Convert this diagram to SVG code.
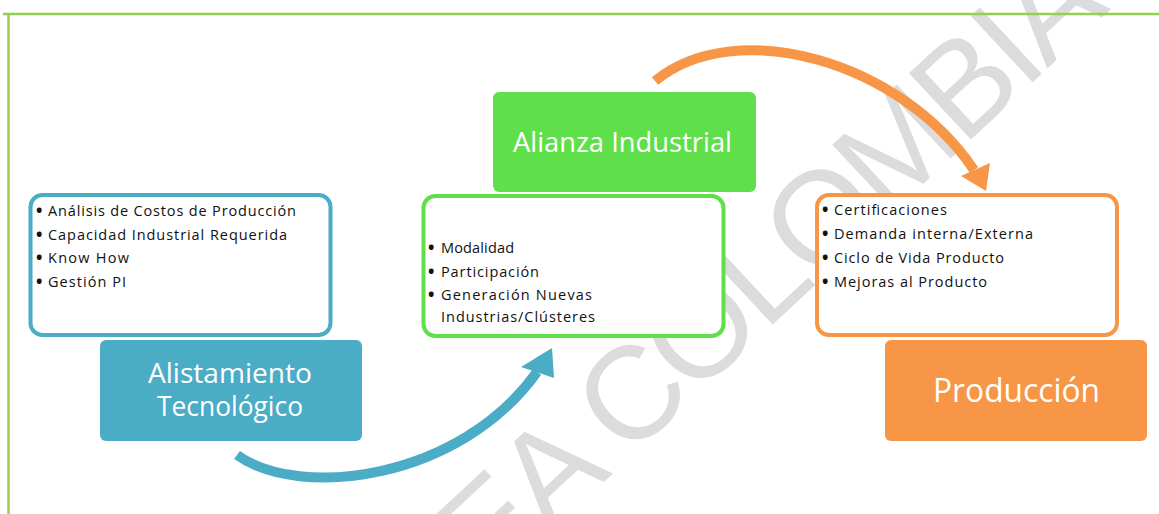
<svg xmlns="http://www.w3.org/2000/svg" width="1159" height="514" viewBox="0 0 1159 514">
<style>
.wm{font-family:"Liberation Sans",Arial,sans-serif;font-size:132px;fill:#DCDCDC;letter-spacing:-5px}
.frame{fill:none;stroke:#92D050;stroke-width:2.5}
.tbox{fill:#FFFFFF;stroke-width:4}
.lbl{font-family:"Open Sans","Noto Sans",sans-serif;fill:#FFFFFF;text-anchor:start}
.bt{font-family:"Open Sans","Noto Sans",sans-serif;font-size:14.5px;fill:#111111}
.bu{font-family:"Open Sans","Noto Sans",sans-serif;font-size:17px;font-weight:bold;fill:#111111}
.band{fill:none;stroke-width:10;stroke-linecap:butt}
</style>
<rect width="1159" height="514" fill="#FFFFFF"/>
<text class="wm" transform="translate(488,590) rotate(-43)">EA COLOMBIA</text>
<path class="frame" d="M3,14 H1159 M8.5,14 V514"/>

<g id="connectors">
  <path class="band" stroke="#4BACC6" d="M237,455 C300,500 460,480 537,372"/>
  <polygon fill="#4BACC6" points="552,348 521,367 554,378"/>
  <path class="band" stroke="#F79646" d="M655,81 C735,15 900,60 974,170"/>
  <polygon fill="#F79646" points="986,191 961,176 990,163"/>
</g>

<g id="node-alistamiento-detalle">
  <rect class="tbox" stroke="#4BACC6" x="30.5" y="195" width="300" height="140" rx="12"/>
  <text class="bu" x="36" y="217">•</text>
  <text class="bt" x="48" y="216" textLength="248">Análisis de Costos de Producción</text>
  <text class="bu" x="36" y="241">•</text>
  <text class="bt" x="48" y="240" textLength="239">Capacidad Industrial Requerida</text>
  <text class="bu" x="36" y="264">•</text>
  <text class="bt" x="48" y="263" textLength="81">Know How</text>
  <text class="bu" x="36" y="288">•</text>
  <text class="bt" x="48" y="287" textLength="78">Gestión PI</text>
</g>
<g id="node-alistamiento">
  <rect x="100" y="340" width="262" height="101" rx="6" fill="#4BACC6"/>
  <text class="lbl" font-size="27"><tspan x="148" y="383" textLength="164" lengthAdjust="spacingAndGlyphs">Alistamiento</tspan><tspan x="157" y="416" textLength="146" lengthAdjust="spacingAndGlyphs">Tecnológico</tspan></text>
</g>

<g id="node-alianza-detalle">
  <rect class="tbox" stroke="#5FE04A" x="423.5" y="196" width="300" height="140" rx="12"/>
  <text class="bu" x="428" y="254">•</text>
  <text class="bt" x="441" y="253" textLength="73">Modalidad</text>
  <text class="bu" x="428" y="278">•</text>
  <text class="bt" x="441" y="277" textLength="98">Participación</text>
  <text class="bu" x="428" y="301">•</text>
  <text class="bt" x="441" y="300" textLength="151">Generación Nuevas</text>
  <text class="bt" x="441" y="322" textLength="154">Industrias/Clústeres</text>
</g>
<g id="node-alianza">
  <rect x="493" y="92" width="263" height="100" rx="6" fill="#5FE04A"/>
  <text class="lbl" x="513" y="152" font-size="28" textLength="219" lengthAdjust="spacingAndGlyphs">Alianza Industrial</text>
</g>

<g id="node-produccion-detalle">
  <rect class="tbox" stroke="#F79646" x="817" y="195" width="300" height="140" rx="12"/>
  <text class="bu" x="822" y="216">•</text>
  <text class="bt" x="834" y="215" textLength="113">Certificaciones</text>
  <text class="bu" x="822" y="240">•</text>
  <text class="bt" x="834" y="239" textLength="199">Demanda interna/Externa</text>
  <text class="bu" x="822" y="264">•</text>
  <text class="bt" x="834" y="263" textLength="170">Ciclo de Vida Producto</text>
  <text class="bu" x="822" y="288">•</text>
  <text class="bt" x="834" y="287" textLength="153">Mejoras al Producto</text>
</g>
<g id="node-produccion">
  <rect x="885" y="340" width="262" height="101" rx="6" fill="#F79646"/>
  <text class="lbl" x="933" y="402" font-size="32" textLength="167" lengthAdjust="spacingAndGlyphs">Producción</text>
</g>
</svg>
